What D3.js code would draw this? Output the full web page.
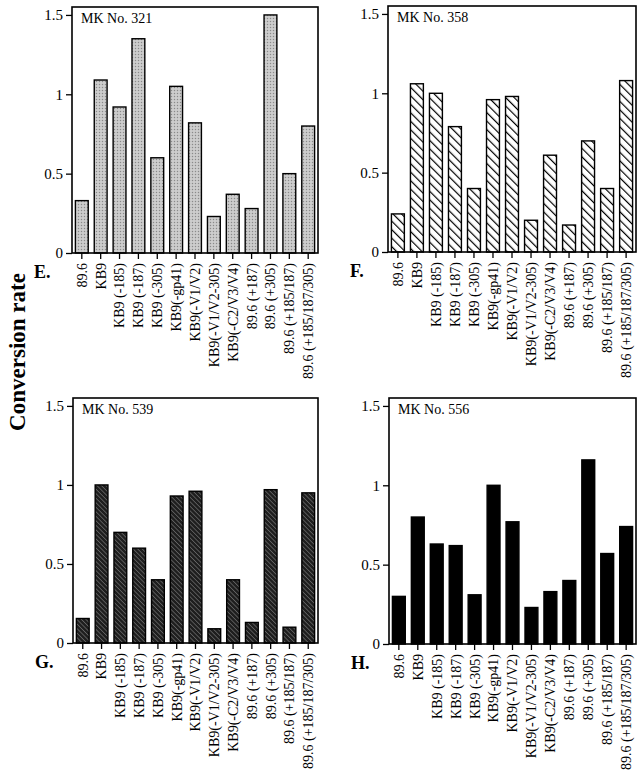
<!DOCTYPE html>
<html>
<head>
<meta charset="utf-8">
<script src="https://cdn.jsdelivr.net/npm/d3@7"></script>
<style>
	body { margin: 0; background: #fff; }
	svg { display: block; }
	text { font-family: "Liberation Serif", "Times New Roman", serif; fill: #000; }
</style>
</head>
<body>
<script>
// constructs on the x axis (same for every panel)
var constructs = ["89.6", "KB9", "KB9 (-185)", "KB9 (-187)", "KB9 (-305)", "KB9(-gp41)",
	"KB9(-V1/V2)", "KB9(-V1/V2-305)", "KB9(-C2/V3/V4)", "89.6 (+187)", "89.6 (+305)",
	"89.6 (+185/187)", "89.6 (+185/187/305)"];

var yTicks = [0, 0.5, 1, 1.5];
var yTickLabels = ["0", "0.5", "1", "1.5"];

var panelNames = ["MK No. 321", "MK No. 358", "MK No. 539", "MK No. 556"];
var panelLetters = ["E.", "F.", "G.", "H."];

// conversion rates
var mk321 = [0.33, 1.09, 0.92, 1.35, 0.60, 1.05, 0.82, 0.23, 0.37, 0.28, 1.50, 0.50, 0.80];
var mk358 = [0.24, 1.06, 1.00, 0.79, 0.40, 0.96, 0.98, 0.20, 0.61, 0.17, 0.70, 0.40, 1.08];
var mk539 = [0.155, 1.00, 0.70, 0.60, 0.40, 0.93, 0.96, 0.09, 0.40, 0.13, 0.97, 0.10, 0.95];
var mk556 = [0.30, 0.80, 0.63, 0.62, 0.31, 1.00, 0.77, 0.23, 0.33, 0.40, 1.16, 0.57, 0.74];

var series = [mk321, mk358, mk539, mk556];

var svg = d3.select("body").append("svg")
	.attr("width", 642)
	.attr("height", 783);

var defs = svg.append("defs");

// stippled grey
var p1 = defs.append("pattern")
	.attr("id", "stipple")
	.attr("patternUnits", "userSpaceOnUse")
	.attr("width", 3).attr("height", 3);
p1.append("rect").attr("width", 3).attr("height", 3).attr("fill", "#c4c4c4");
p1.append("rect").attr("x", 0).attr("y", 0).attr("width", 1).attr("height", 1).attr("fill", "#8a8a8a");
p1.append("rect").attr("x", 1.5).attr("y", 1.5).attr("width", 1).attr("height", 1).attr("fill", "#e8e8e8");

// open hatching (top-left to bottom-right)
var p2 = defs.append("pattern")
	.attr("id", "hatch")
	.attr("patternUnits", "userSpaceOnUse")
	.attr("width", 6).attr("height", 6)
	.attr("patternTransform", "rotate(-45)");
p2.append("rect").attr("width", 6).attr("height", 6).attr("fill", "#fff");
p2.append("line").attr("x1", 0).attr("y1", 0).attr("x2", 0).attr("y2", 6)
	.attr("stroke", "#000").attr("stroke-width", 2.4);

// dark dense hatching
var p3 = defs.append("pattern")
	.attr("id", "darkhatch")
	.attr("patternUnits", "userSpaceOnUse")
	.attr("width", 3.2).attr("height", 3.2)
	.attr("patternTransform", "rotate(-45)");
p3.append("rect").attr("width", 3.2).attr("height", 3.2).attr("fill", "#1e1e1e");
p3.append("line").attr("x1", 0).attr("y1", 0).attr("x2", 0).attr("y2", 3.2)
	.attr("stroke", "#9a9a9a").attr("stroke-width", 0.9);

var fills = ["url(#stipple)", "url(#hatch)", "url(#darkhatch)", "#000"];

// panel frames: left, right, top, bottom
var frames = [
	[72, 318, 7, 253],
	[388, 636, 6, 252],
	[73, 318, 398, 643],
	[389, 636, 398, 644]
];

frames.forEach(function(f, i) {
	var x = d3.scaleBand()
		.domain(constructs)
		.range([f[0], f[1]])
		.paddingInner(0.32)
		.paddingOuter(0.18);

	var y = d3.scaleLinear()
		.domain([0, 1.55])
		.range([f[3], f[2]]);

	var g = svg.append("g");

	g.selectAll(".bar")
		.data(series[i])
		.enter().append("rect")
		.attr("class", "bar")
		.attr("x", function(d, j) { return x(constructs[j]); })
		.attr("width", x.bandwidth())
		.attr("y", function(d) { return y(d); })
		.attr("height", function(d) { return y(0) - y(d); })
		.attr("fill", fills[i])
		.attr("stroke", "#000")
		.attr("stroke-width", 1.4);

	// frame
	g.append("rect")
		.attr("x", f[0]).attr("y", f[2])
		.attr("width", f[1] - f[0]).attr("height", f[3] - f[2])
		.attr("fill", "none")
		.attr("stroke", "#000")
		.attr("stroke-width", 1.6);

	var yAxis = g.append("g")
		.attr("transform", "translate(" + f[0] + ",0)")
		.call(d3.axisLeft(y)
			.tickValues(yTicks)
			.tickFormat(function(d, k) { return yTickLabels[k]; })
			.tickSize(6)
			.tickPadding(3));
	yAxis.select(".domain").remove();
	yAxis.selectAll("line").attr("stroke-width", 1.3);
	yAxis.selectAll("text")
		.style("font-family", "'Liberation Serif', serif")
		.style("font-size", "15px")
		.attr("fill", "#000");

	var xAxis = g.append("g")
		.attr("transform", "translate(0," + f[3] + ")")
		.call(d3.axisBottom(x).tickSize(6).tickPadding(4));
	xAxis.select(".domain").remove();
	xAxis.selectAll("line").attr("stroke-width", 1.3);
	xAxis.selectAll("text")
		.style("font-family", "'Liberation Serif', serif")
		.style("font-size", "14px")
		.attr("fill", "#000")
		.attr("transform", "rotate(-90)")
		.attr("text-anchor", "end")
		.attr("x", -10)
		.attr("y", 0)
		.attr("dy", "0.35em");

	g.append("text")
		.attr("x", f[0] + 9)
		.attr("y", f[2] + 16)
		.style("font-size", "14px")
		.text(panelNames[i]);

	g.append("text")
		.attr("x", f[0] - 38)
		.attr("y", f[3] + 25)
		.style("font-size", "18px")
		.style("font-weight", "bold")
		.text(panelLetters[i]);
});

svg.append("text")
	.attr("transform", "translate(25,352) rotate(-90)")
	.attr("text-anchor", "middle")
	.style("font-size", "23px")
	.style("font-weight", "bold")
	.text("Conversion rate");
</script>
</body>
</html>
